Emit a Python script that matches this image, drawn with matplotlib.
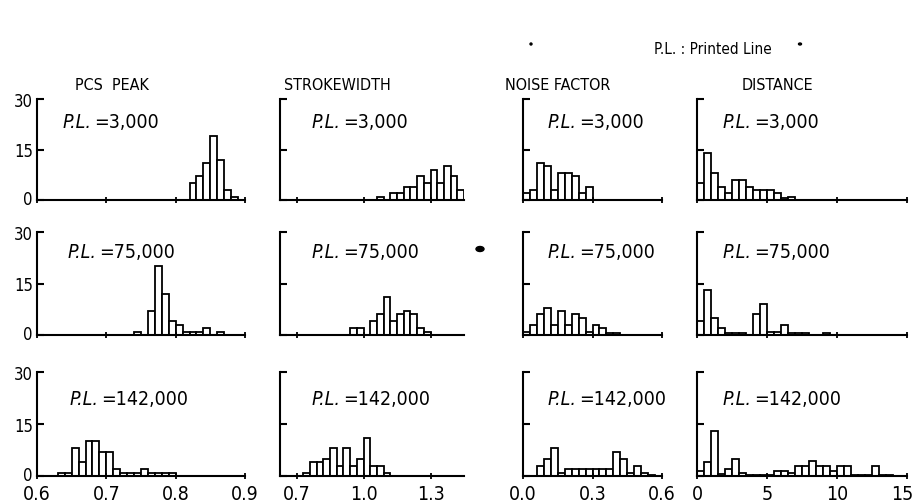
import matplotlib
matplotlib.use("Agg")
import matplotlib.pyplot as plt
import matplotlib.transforms as mtransforms
from matplotlib.patches import Ellipse

plt.rcParams["font.family"] = ["DejaVu Sans"]
plt.rcParams["font.stretch"] = "condensed"

W, H = 915, 502

titles = ["PCS  PEAK", "STROKEWIDTH", "NOISE FACTOR", "DISTANCE"]
printed_lines = ["3,000", "75,000", "142,000"]

xlims = [(0.6, 0.9), (0.626, 1.45), (0.0, 0.6), (0.0, 15.0)]
xticks = [[0.6, 0.7, 0.8, 0.9], [0.7, 1.0, 1.3], [0.0, 0.3, 0.6], [0, 5, 10, 15]]
xticklabels = [["0.6", "0.7", "0.8", "0.9"], ["0.7", "1.0", "1.3"],
               ["0.0", "0.3", "0.6"], ["0", "5", "10", "15"]]
bin_width = [0.01, 0.03, 0.03, 0.5]

# first bin edge and counts, one per printed-line row
pcs_start = [0.82, 0.74, 0.63]
pcs_counts = [
    [5, 7, 11, 19, 12, 3, 1],
    [1, 0, 7, 20, 12, 4, 3, 1, 1, 1, 2, 0, 1],
    [1, 1, 8, 4, 10, 10, 7, 7, 2, 1, 1, 1, 2, 1, 1, 1, 1],
]
stroke_start = [1.06, 0.94, 0.73]
stroke_counts = [
    [1, 0, 2, 2, 4, 4, 7, 5, 9, 5, 10, 7, 3],
    [2, 2, 0, 4, 6, 11, 4, 6, 7, 6, 2, 1],
    [1, 4, 4, 5, 8, 3, 8, 3, 5, 11, 3, 3, 1],
]
noise_start = [0.0, 0.0, 0.0]
noise_counts = [
    [2, 3, 11, 10, 3, 8, 8, 7, 2, 4],
    [1, 3, 6, 8, 3, 7, 3, 6, 5, 1, 3, 2, 0.5, 0.5],
    [0, 0, 3, 5, 8, 1, 2, 2, 2, 2, 2, 2, 2, 7, 5, 1, 3, 1, 0.3],
]
dist_start = [0.0, 0.0, 0.0]
dist_counts = [
    [5, 14, 8, 4, 2, 6, 6, 4, 3, 3, 3, 2, 0.5, 1],
    [4, 13, 5, 2, 0.5, 0.5, 0.5, 0, 6, 9, 1, 1, 3, 0.5, 0.5, 0.5, 0, 0, 0.5],
    [1.5, 4, 13, 0.5, 2, 5, 0.8, 0.3, 0.3, 0.3, 0.3, 1.5, 1.5, 0.8, 3, 3, 4.4,
     3, 3, 1.5, 3, 3, 0.3, 0.3, 0.3, 3, 0.3, 0.3],
]

starts = [pcs_start, stroke_start, noise_start, dist_start]
counts = [pcs_counts, stroke_counts, noise_counts, dist_counts]

col_left = [37, 280, 523, 697]
col_right = [245, 464, 662, 907]
row_top = [100, 233, 373]
row_bottom = [201, 336, 477]
text_x = [[63, 312, 548, 723], [68, 312, 548, 723], [70, 312, 548, 723]]
text_y = [122, 253, 400]

fig = plt.figure(figsize=(W / 100, H / 100), dpi=100)


def nudge(label, dx, dy):
    shift = mtransforms.ScaledTranslation(dx / 100, dy / 100, fig.dpi_scale_trans)
    label.set_transform(label.get_transform() + shift)


for c in range(4):
    for r in range(3):
        rect = [col_left[c] / W, 1 - row_bottom[r] / H,
                (col_right[c] - col_left[c]) / W, (row_bottom[r] - row_top[r]) / H]
        ax = fig.add_axes(rect)
        vals = counts[c][r]
        lefts = [starts[c][r] + i * bin_width[c] for i in range(len(vals))]
        ax.bar(lefts, vals, width=bin_width[c], align="edge",
               color="white", edgecolor="black", linewidth=1.3)
        ax.set_xlim(*xlims[c])
        ax.set_ylim(0, 30)
        for s in ["top", "right"]:
            ax.spines[s].set_visible(False)
        for s in ["left", "bottom"]:
            ax.spines[s].set_linewidth(1.5)
        ax.set_yticks([0, 15, 30])
        ax.tick_params(axis="y", direction="in", length=5, width=1.5, pad=3,
                       labelsize=12)
        if c == 0:
            ax.set_yticklabels(["0", "15", "30"])
            nudge(ax.get_yticklabels()[0], 0, 3)
        else:
            ax.set_yticklabels([])
        ax.set_xticks(xticks[c])
        ax.tick_params(axis="x", direction="inout", length=5, width=1.3, pad=3,
                       labelsize=14)
        if r == 2:
            ax.set_xticklabels(xticklabels[c])
            if c == 3:
                nudge(ax.get_xticklabels()[-1], -5, 0)
        else:
            ax.set_xticklabels([])
        t1 = fig.text(text_x[r][c] / W, 1 - text_y[r] / H, "P.L.", style="italic",
                      fontsize=14, va="center")
        ax.annotate("=" + printed_lines[r], xy=(1.08, 0.5), xycoords=t1,
                    va="center", fontsize=14)

title_x = [112, 337, 558, 777]
for c in range(4):
    fig.text(title_x[c] / W, 1 - 86 / H, titles[c], ha="center", va="center",
             fontsize=11.5)

fig.text(713 / W, 1 - 50 / H, "P.L. : Printed Line", ha="center", va="center",
         fontsize=11)

# specks from the scan
fig.patches.append(Ellipse((480 / W, 1 - 250 / H), 8 / W, 5 / H,
                           transform=fig.transFigure, color="black"))
fig.patches.append(Ellipse((531 / W, 1 - 45 / H), 2 / W, 2 / H,
                           transform=fig.transFigure, color="black"))
fig.patches.append(Ellipse((800 / W, 1 - 45 / H), 3 / W, 2 / H,
                           transform=fig.transFigure, color="black"))

fig.savefig("out.png", dpi=100)
